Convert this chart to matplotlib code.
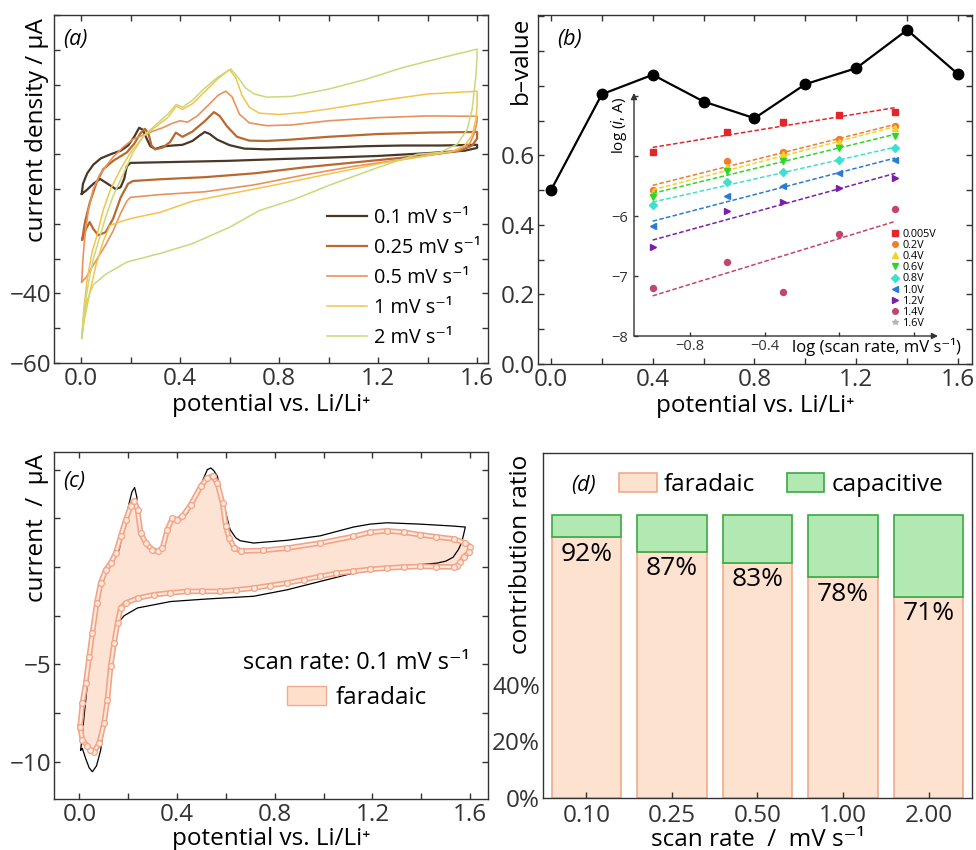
"""
Four-panel figure: CV curves at several scan rates (a), b-value analysis with
log(i)-log(v) inset (b), faradaic share of a single CV (c) and the faradaic /
capacitive split per scan rate (d).
"""
import numpy as np
import matplotlib
matplotlib.use("Agg")
import matplotlib.pyplot as plt
from matplotlib.patches import Patch
from matplotlib.lines import Line2D
from matplotlib.ticker import MultipleLocator

plt.rcParams["font.family"] = ["Open Sans", "DejaVu Sans"]
plt.rcParams["font.size"] = 17.5
plt.rcParams["axes.linewidth"] = 1.0
plt.rcParams["axes.edgecolor"] = "#333333"
plt.rcParams["xtick.color"] = "#333333"
plt.rcParams["ytick.color"] = "#333333"
MINUS = "\u2212"
TICK_FS = 17.5

# ---------------------------------------------------------------- panel (a)
# potential (V) and current (uA); anodic sweep first, then cathodic sweep
cv010_v = [0.003, 0.008, 0.025, 0.05, 0.08, 0.12, 0.16, 0.19, 0.215, 0.235,
           0.25, 0.265, 0.28, 0.30, 0.33, 0.37, 0.41, 0.45, 0.48, 0.50,
           0.52, 0.55, 0.60, 0.66, 0.75, 0.85, 1.00, 1.15, 1.30, 1.45, 1.60,
           1.60, 1.55, 1.40, 1.20, 1.00, 0.80, 0.60, 0.40, 0.20, 0.185,
           0.175, 0.16, 0.14, 0.11, 0.077, 0.05, 0.02, 0.003]
cv010_i = [-11.4, -8.5, -5.5, -3.0, -1.2, 0.0, 1.0, 2.5, 5.0, 7.6,
           7.0, 4.5, 2.3, 1.5, 2.2, 2.5, 2.7, 3.8, 5.4, 6.4,
           5.8, 4.2, 2.6, 1.6, 1.4, 1.6, 1.9, 2.3, 2.5, 2.5, 2.7,
           1.8, 1.0, 0.3, -0.5, -1.0, -1.4, -1.9, -2.2, -2.5, -3.5,
           -7.0, -9.5, -10.0, -8.6, -7.1, -8.5, -10.5, -11.4]

cv025_v = [0.005, 0.016, 0.036, 0.063, 0.09, 0.13, 0.185, 0.215, 0.24, 0.258,
           0.272, 0.285, 0.30, 0.33, 0.36, 0.383, 0.41, 0.45, 0.50, 0.537,
           0.56, 0.59, 0.63, 0.68, 0.75, 0.85, 1.00, 1.20, 1.40, 1.60,
           1.60, 1.58, 1.53, 1.45, 1.30, 1.10, 0.90, 0.70, 0.50, 0.32,
           0.21, 0.19, 0.175, 0.16, 0.13, 0.10, 0.07, 0.05, 0.035, 0.02, 0.005]
cv025_i = [-24.5, -19.5, -13.8, -8.1, -4.3, -1.9, 0.5, 3.0, 6.0, 7.3,
           6.0, 2.5, 1.4, 1.9, 3.5, 6.2, 5.0, 6.5, 9.5, 12.1,
           11.0, 8.0, 5.0, 3.9, 3.8, 4.2, 5.0, 5.8, 6.2, 6.4,
           4.5, 2.5, 1.0, 0.2, -1.0, -2.4, -3.8, -5.5, -6.6, -7.2,
           -7.7, -8.5, -10.5, -12.5, -18.5, -22.4, -23.3, -21.5, -19.5, -21.5, -24.5]

cv050_v = [0.003, 0.008, 0.015, 0.03, 0.05, 0.075, 0.10, 0.13, 0.17, 0.21,
           0.255, 0.29, 0.33, 0.37, 0.40, 0.43, 0.47, 0.52, 0.555, 0.585,
           0.61, 0.64, 0.68, 0.75, 0.85, 1.00, 1.20, 1.40, 1.60,
           1.60, 1.59, 1.57, 1.52, 1.45, 1.30, 1.10, 0.90, 0.70, 0.50,
           0.32, 0.20, 0.185, 0.16, 0.13, 0.10, 0.07, 0.04, 0.02, 0.003]
cv050_i = [-36.7, -30.0, -24.0, -16.0, -10.0, -6.0, -3.5, -0.8, 2.0, 4.3,
           5.6, 6.6, 7.6, 8.9, 9.6, 9.2, 11.0, 14.5, 17.0, 18.1,
           16.5, 11.5, 9.0, 8.2, 8.4, 9.6, 10.5, 11.0, 10.9,
           9.5, 6.2, 3.0, 1.0, 0.2, -1.5, -3.5, -6.0, -8.8, -10.8,
           -11.6, -12.4, -13.5, -17.0, -22.0, -26.0, -29.5, -33.0, -35.5, -36.7]

cv100_v = [0.003, 0.012, 0.025, 0.045, 0.062, 0.09, 0.12, 0.16, 0.20, 0.255,
           0.30, 0.35, 0.385, 0.41, 0.45, 0.50, 0.55, 0.60, 0.625, 0.65,
           0.68, 0.72, 0.80, 0.90, 1.00, 1.20, 1.40, 1.60,
           1.60, 1.595, 1.58, 1.55, 1.50, 1.40, 1.20, 1.00, 0.80, 0.60,
           0.45, 0.32, 0.20, 0.15, 0.117, 0.09, 0.06, 0.035, 0.015, 0.003]
cv100_i = [-52.9, -44.0, -36.0, -28.0, -24.0, -16.0, -10.0, -4.3, 0.5, 5.3,
           7.8, 10.5, 13.8, 12.9, 14.5, 18.0, 21.5, 24.3, 22.0, 17.0,
           13.5, 11.8, 11.4, 12.0, 13.0, 15.3, 17.3, 18.1,
           14.0, 10.0, 5.5, 2.5, 0.8, -0.3, -2.8, -5.7, -8.6, -11.4,
           -13.5, -16.7, -18.5, -19.6, -20.5, -25.0, -32.0, -40.0, -47.0, -52.9]

cv200_v = [0.003, 0.015, 0.03, 0.05, 0.075, 0.10, 0.13, 0.174, 0.21, 0.255,
           0.30, 0.35, 0.385, 0.41, 0.45, 0.50, 0.55, 0.605, 0.635, 0.665,
           0.70, 0.75, 0.85, 1.00, 1.15, 1.30, 1.45, 1.60,
           1.60, 1.595, 1.58, 1.56, 1.52, 1.45, 1.36, 1.20, 1.00, 0.86,
           0.72, 0.60, 0.45, 0.32, 0.185, 0.10, 0.05, 0.025, 0.01, 0.003]
cv200_i = [-52.9, -44.0, -37.0, -30.0, -24.0, -18.0, -12.0, -5.2, 0.5, 5.4,
           8.3, 11.5, 14.3, 13.5, 15.5, 19.0, 22.0, 24.5, 22.0, 19.0,
           17.3, 16.4, 16.6, 18.7, 21.5, 24.9, 27.6, 30.2,
           28.0, 22.4, 12.9, 7.1, 2.9, 0.5, 0.0, -3.8, -9.0, -13.0,
           -16.2, -21.0, -25.7, -28.5, -31.0, -34.5, -37.5, -42.0, -47.0, -52.9]

cv_labels = ["0.1 mV s\u207b\u00b9", "0.25 mV s\u207b\u00b9", "0.5 mV s\u207b\u00b9",
             "1 mV s\u207b\u00b9", "2 mV s\u207b\u00b9"]
cv_colors = ["#4a3826", "#b9692f", "#e9925c", "#f4c44a", "#c9d97a"]
cv_widths = [1.6, 1.6, 1.2, 1.1, 1.1]

# ---------------------------------------------------------------- panel (b)
b_potential = [0.0, 0.2, 0.4, 0.6, 0.8, 1.0, 1.2, 1.4, 1.6]
b_value = [0.50, 0.776, 0.832, 0.755, 0.707, 0.805, 0.851, 0.961, 0.834]

log_rate = [-1.0, -0.602, -0.301, 0.0, 0.301]
log_i_0005 = [-4.93, -4.60, -4.44, -4.31, -4.27]
log_i_02 = [-5.56, -5.08, -4.93, -4.72, -4.50]
log_i_04 = [-5.62, -5.18, -4.97, -4.76, -4.54]
log_i_06 = [-5.68, -5.25, -5.08, -4.86, -4.67]
log_i_08 = [-5.81, -5.43, -5.27, -5.07, -4.87]
log_i_10 = [-6.16, -5.67, -5.50, -5.28, -5.07]
log_i_12 = [-6.52, -5.92, -5.76, -5.54, -5.36]
log_i_14 = [-7.20, -6.76, -7.27, -6.30, -5.88]
log_i_16 = []  # listed in the legend, no points shown

inset_labels = ["0.005V", "0.2V", "0.4V", "0.6V", "0.8V", "1.0V", "1.2V", "1.4V", "1.6V"]
inset_colors = ["#e3262b", "#f07c2c", "#f3d22a", "#2fd42f", "#3fe0cf",
                "#2b7bd6", "#7a1fa8", "#c2456c", "#b5b5b5"]
inset_markers = ["s", "o", "^", "v", "D", "<", ">", "o", "*"]

# ---------------------------------------------------------------- panel (c)
total_v = [0.005, 0.012, 0.019, 0.033, 0.046, 0.067, 0.087, 0.108, 0.135, 0.163,
           0.183, 0.204, 0.215, 0.226, 0.235, 0.244, 0.265, 0.292, 0.32, 0.34,
           0.367, 0.381, 0.40, 0.415, 0.442, 0.483, 0.524, 0.538, 0.55, 0.565,
           0.576, 0.593, 0.617, 0.64, 0.658, 0.713, 0.85, 0.986, 1.122, 1.19,
           1.259, 1.395, 1.532, 1.58,
           1.572, 1.563, 1.552, 1.53, 1.50, 1.464, 1.395, 1.259, 1.122, 0.986,
           0.85, 0.713, 0.576, 0.51, 0.374, 0.238, 0.183, 0.163, 0.142, 0.128,
           0.115, 0.10, 0.087, 0.07, 0.053, 0.04, 0.025, 0.012, 0.005]
total_i = [-9.4, -8.6, -7.67, -5.96, -4.25, -2.54, -1.17, -0.31, 0.2, 0.89,
           2.08, 3.29, 3.85, 4.08, 3.6, 2.2, 1.4, 0.89, 0.8, 1.06,
           2.09, 2.5, 2.45, 2.42, 2.77, 3.8, 5.0, 5.08, 4.95, 4.66,
           3.9, 3.1, 1.92, 1.5, 1.35, 1.23, 1.37, 1.6, 2.05, 2.2,
           2.27, 2.2, 2.1, 2.05,
           1.6, 1.2, 0.9, 0.5, 0.3, 0.2, 0.12, -0.05, -0.31, -0.74,
           -1.17, -1.5, -1.6, -1.65, -1.77, -2.1, -2.5, -2.8, -4.25, -5.5,
           -6.8, -8.2, -9.4, -10.2, -10.5, -10.3, -9.8, -9.3, -9.4]

faradaic_v = [0.003, 0.012, 0.026, 0.04, 0.053, 0.071, 0.087, 0.108, 0.128, 0.149,
              0.169, 0.19, 0.21, 0.224, 0.238, 0.251, 0.272, 0.299, 0.32, 0.34,
              0.36, 0.381, 0.401, 0.422, 0.456, 0.497, 0.524, 0.545, 0.565, 0.586,
              0.60, 0.613, 0.634, 0.66, 0.75, 0.85, 0.986, 1.122, 1.19, 1.259,
              1.33, 1.395, 1.46, 1.532, 1.58, 1.60,
              1.595, 1.573, 1.56, 1.546, 1.532, 1.46, 1.395, 1.33, 1.259, 1.19,
              1.122, 1.05, 0.986, 0.92, 0.85, 0.78, 0.713, 0.64, 0.576, 0.50,
              0.442, 0.37, 0.306, 0.238, 0.19, 0.169, 0.156, 0.142, 0.128, 0.115,
              0.101, 0.081, 0.06, 0.045, 0.033, 0.012, 0.003]
faradaic_i = [-8.2, -7.0, -5.96, -4.6, -3.4, -1.85, -0.82, -0.14, 0.2, 0.72,
              1.57, 2.43, 3.12, 3.4, 2.94, 1.74, 1.23, 0.89, 0.8, 0.97,
              1.92, 2.5, 2.42, 2.6, 3.2, 4.14, 4.57, 4.66, 4.3, 3.29,
              2.08, 1.49, 1.0, 0.82, 0.85, 0.97, 1.23, 1.57, 1.78, 1.86,
              1.78, 1.66, 1.55, 1.44, 1.23, 1.05,
              0.75, 0.5, 0.25, 0.05, 0.0, 0.02, 0.03, 0.0, -0.05, -0.12,
              -0.22, -0.33, -0.48, -0.65, -0.82, -0.95, -1.08, -1.18, -1.25, -1.25,
              -1.25, -1.33, -1.42, -1.6, -1.85, -2.11, -2.88, -3.9, -5.1, -6.8,
              -8.0, -9.05, -9.47, -9.4, -9.2, -8.87, -8.2]

# ---------------------------------------------------------------- panel (d)
scan_rates = ["0.10", "0.25", "0.50", "1.00", "2.00"]
faradaic_share = [0.92, 0.87, 0.83, 0.78, 0.71]

FAR_FACE, FAR_EDGE = "#fde2d0", "#f2a98d"
CAP_FACE, CAP_EDGE = "#b2e8b2", "#3aa844"

W, H = 976, 850


def box(left, top, right, bottom):
    """Pixel box of the reference image -> figure fraction rect."""
    return [left / W, 1 - bottom / H, (right - left) / W, (bottom - top) / H]


def style(ax, top=True, right=True):
    ax.tick_params(which="both", direction="in", top=top, right=right,
                   length=4, width=1, labelsize=TICK_FS, pad=3)


fig = plt.figure(figsize=(9.76, 8.5), dpi=100)

# ---- (a)
ax_a = fig.add_axes(box(54, 15, 488, 363))
curves = [(cv010_v, cv010_i), (cv025_v, cv025_i), (cv050_v, cv050_i),
          (cv100_v, cv100_i), (cv200_v, cv200_i)]
for (v, i), lab, col, lw in zip(curves, cv_labels, cv_colors, cv_widths):
    ax_a.plot(v, i, color=col, lw=lw, label=lab)
ax_a.set_xlim(-0.109, 1.644)
ax_a.set_ylim(-60, 40)
ax_a.set_xticks([0.0, 0.4, 0.8, 1.2, 1.6])
ax_a.xaxis.set_minor_locator(MultipleLocator(0.2))
a_ticks = list(range(-60, 41, 10))
ax_a.set_yticks(a_ticks, labels=[MINUS + "60", "", MINUS + "40"] + [""] * 8)
style(ax_a)
ax_a.tick_params(axis="y", pad=2)
ax_a.set_xlabel("potential vs. Li/Li\u207a", labelpad=1)
ax_a.set_ylabel("current density / \u03bcA", loc="top")
ax_a.yaxis.set_label_coords(-0.012, 0.99)
ax_a.text(0.022, 0.93, "(a)", transform=ax_a.transAxes, fontsize=15.5,
          style="italic", va="center")
ax_a.legend(loc="center left", bbox_to_anchor=(0.629, 0.244), frameon=False,
            fontsize=14.3, handlelength=2.0, handletextpad=0.38,
            labelspacing=0.5, borderpad=0, borderaxespad=0)

# ---- (b)
ax_b = fig.add_axes(box(538, 15, 972, 364))
ax_b.plot(b_potential, b_value, color="black", lw=1.6, marker="o", ms=7.5)
ax_b.set_xlim(-0.051, 1.655)
ax_b.set_ylim(0, 1.004)
ax_b.set_xticks([0.0, 0.4, 0.8, 1.2, 1.6])
ax_b.xaxis.set_minor_locator(MultipleLocator(0.2))
b_ticks = [round(0.1 * k, 1) for k in range(11)]
ax_b.set_yticks(b_ticks, labels=["0.0", "", "0.2", "", "0.4", "", "0.6", "", "", "", ""])
style(ax_b)
ax_b.tick_params(axis="y", pad=2)
ax_b.set_xlabel("potential vs. Li/Li\u207a", labelpad=1)
ax_b.set_ylabel("b\u2013value", loc="top")
ax_b.yaxis.set_label_coords(-0.012, 0.995)
ax_b.text(0.045, 0.93, "(b)", transform=ax_b.transAxes, fontsize=15.5,
          style="italic", va="center")

# inset: log(i) vs log(scan rate)
ax_in = fig.add_axes(box(634, 93, 938, 336))
ax_in.patch.set_alpha(0)
series = [log_i_0005, log_i_02, log_i_04, log_i_06, log_i_08,
          log_i_10, log_i_12, log_i_14, log_i_16]
handles = []
for vals, lab, col, mk in zip(series, inset_labels, inset_colors, inset_markers):
    if len(vals):
        slope, icpt = np.polyfit(log_rate, vals, 1)
        xs = np.array([log_rate[0], log_rate[-1]])
        ax_in.plot(xs, slope * xs + icpt, color=col, lw=1.1, ls=(0, (3, 1.5)))
        ax_in.plot(log_rate, vals, ls="none", marker=mk, color=col, ms=4.3)
    handles.append(Line2D([], [], ls="none", marker=mk, color=col, ms=4.0, label=lab))
ax_in.set_xlim(-1.10, 0.53)
ax_in.set_ylim(-8, -3.95)
for sp in ax_in.spines.values():
    sp.set_visible(False)
ax_in.annotate("", xy=(1, 0), xytext=(0, 0), xycoords="axes fraction",
               arrowprops=dict(arrowstyle="-|>", lw=1, color="#333333",
                               mutation_scale=9, shrinkA=0, shrinkB=0))
ax_in.annotate("", xy=(0, 1), xytext=(0, 0), xycoords="axes fraction",
               arrowprops=dict(arrowstyle="-|>", lw=1, color="#333333",
                               mutation_scale=9, shrinkA=0, shrinkB=0))
ax_in.set_xticks([-0.8, -0.4, 0.0, 0.4], labels=[MINUS + "0.8", MINUS + "0.4", "", ""])
ax_in.set_yticks([-8, -7, -6, -5, -4], labels=[MINUS + "8", MINUS + "7", MINUS + "6", "", ""])
ax_in.tick_params(direction="in", length=3, width=1, labelsize=10.5, pad=2)
ax_in.tick_params(axis="y", pad=4)
ax_in.set_ylabel("log ($i$, A)", loc="top", fontsize=11)
ax_in.yaxis.set_label_coords(-0.015, 0.985)
ax_in.text(0.52, -0.045, "log (scan rate, mV s\u207b\u00b9)", transform=ax_in.transAxes,
           fontsize=12, va="center", ha="left")
ax_in.legend(handles=handles, loc="center left", bbox_to_anchor=(0.845, 0.235),
             frameon=False, fontsize=7.8, handlelength=0.8, handletextpad=0.3,
             labelspacing=0.02, borderpad=0, borderaxespad=0, numpoints=1)

# ---- (c)
ax_c = fig.add_axes(box(54, 452, 488, 799))
ax_c.fill(faradaic_v, faradaic_i, color="#fde3d3", lw=0, zorder=1)
ax_c.plot(total_v, total_i, color="black", lw=0.9, zorder=2)
ax_c.plot(faradaic_v, faradaic_i, color="#f3a487", lw=4.0, zorder=3,
          solid_joinstyle="round")
ax_c.plot(faradaic_v, faradaic_i, color="#fde9de", lw=1.6, zorder=4,
          marker="o", ms=4.2, mfc="#fde9de", mec="#f3a487", mew=0.9)
ax_c.set_xlim(-0.104, 1.673)
ax_c.set_ylim(-11.9, 5.9)
ax_c.set_xticks([0.0, 0.4, 0.8, 1.2, 1.6])
ax_c.xaxis.set_minor_locator(MultipleLocator(0.2))
c_ticks = [-10, -7.5, -5, -2.5, 0, 2.5, 5]
ax_c.set_yticks(c_ticks, labels=[MINUS + "10", "", MINUS + "5", "", "", "", ""])
style(ax_c)
ax_c.tick_params(axis="y", pad=2)
ax_c.set_xlabel("potential vs. Li/Li\u207a", labelpad=0)
ax_c.set_ylabel("current  /  \u03bcA", loc="top")
ax_c.yaxis.set_label_coords(-0.012, 0.995)
ax_c.text(0.022, 0.915, "(c)", transform=ax_c.transAxes, fontsize=15.5,
          style="italic", va="center")
ax_c.text(0.959, 0.392, "scan rate: 0.1 mV s\u207b\u00b9", transform=ax_c.transAxes,
          fontsize=17, ha="right", va="center")
ax_c.legend(handles=[Patch(facecolor="#fde0cc", edgecolor="#f3a98c", label="faradaic")],
            loc="center left", bbox_to_anchor=(0.537, 0.291), frameon=False,
            fontsize=17.5, handlelength=1.6, handleheight=0.8, handletextpad=0.4,
            borderpad=0, borderaxespad=0)

# ---- (d)
ax_d = fig.add_axes(box(543, 453, 972, 798))
pos = np.arange(len(scan_rates))
far = np.array(faradaic_share)
ax_d.bar(pos, far, width=0.81, color=FAR_FACE, edgecolor=FAR_EDGE, lw=1.2,
         label="faradaic")
ax_d.bar(pos, 1 - far, bottom=far, width=0.81, color=CAP_FACE, edgecolor=CAP_EDGE,
         lw=1.2, label="capacitive")
for p, f in zip(pos, far):
    ax_d.text(p, f - 0.016, f"{round(f * 100)}%", ha="center", va="top", fontsize=19)
ax_d.set_xlim(-0.508, 4.508)
ax_d.set_ylim(0, 1.218)
ax_d.set_xticks(pos, labels=scan_rates)
ax_d.set_yticks([0, 0.2, 0.4], labels=["0%", "20%", "40%"])
ax_d.tick_params(axis="x", direction="in", length=4, width=1, labelsize=TICK_FS, pad=4)
ax_d.tick_params(axis="y", length=0, labelsize=TICK_FS, pad=2)
ax_d.set_xlabel("scan rate  /  mV s\u207b\u00b9", labelpad=0)
ax_d.set_ylabel("contribution ratio", loc="top")
ax_d.yaxis.set_label_coords(-0.024, 0.995)
ax_d.text(0.065, 0.907, "(d)", transform=ax_d.transAxes, fontsize=15.5,
          style="italic", va="center")
ax_d.legend(loc="center left", bbox_to_anchor=(0.177, 0.907), ncol=2, frameon=False,
            fontsize=17.5, handlelength=1.55, handleheight=0.8, handletextpad=0.3,
            columnspacing=1.3, borderpad=0, borderaxespad=0)

fig.savefig("out.png", dpi=100)
